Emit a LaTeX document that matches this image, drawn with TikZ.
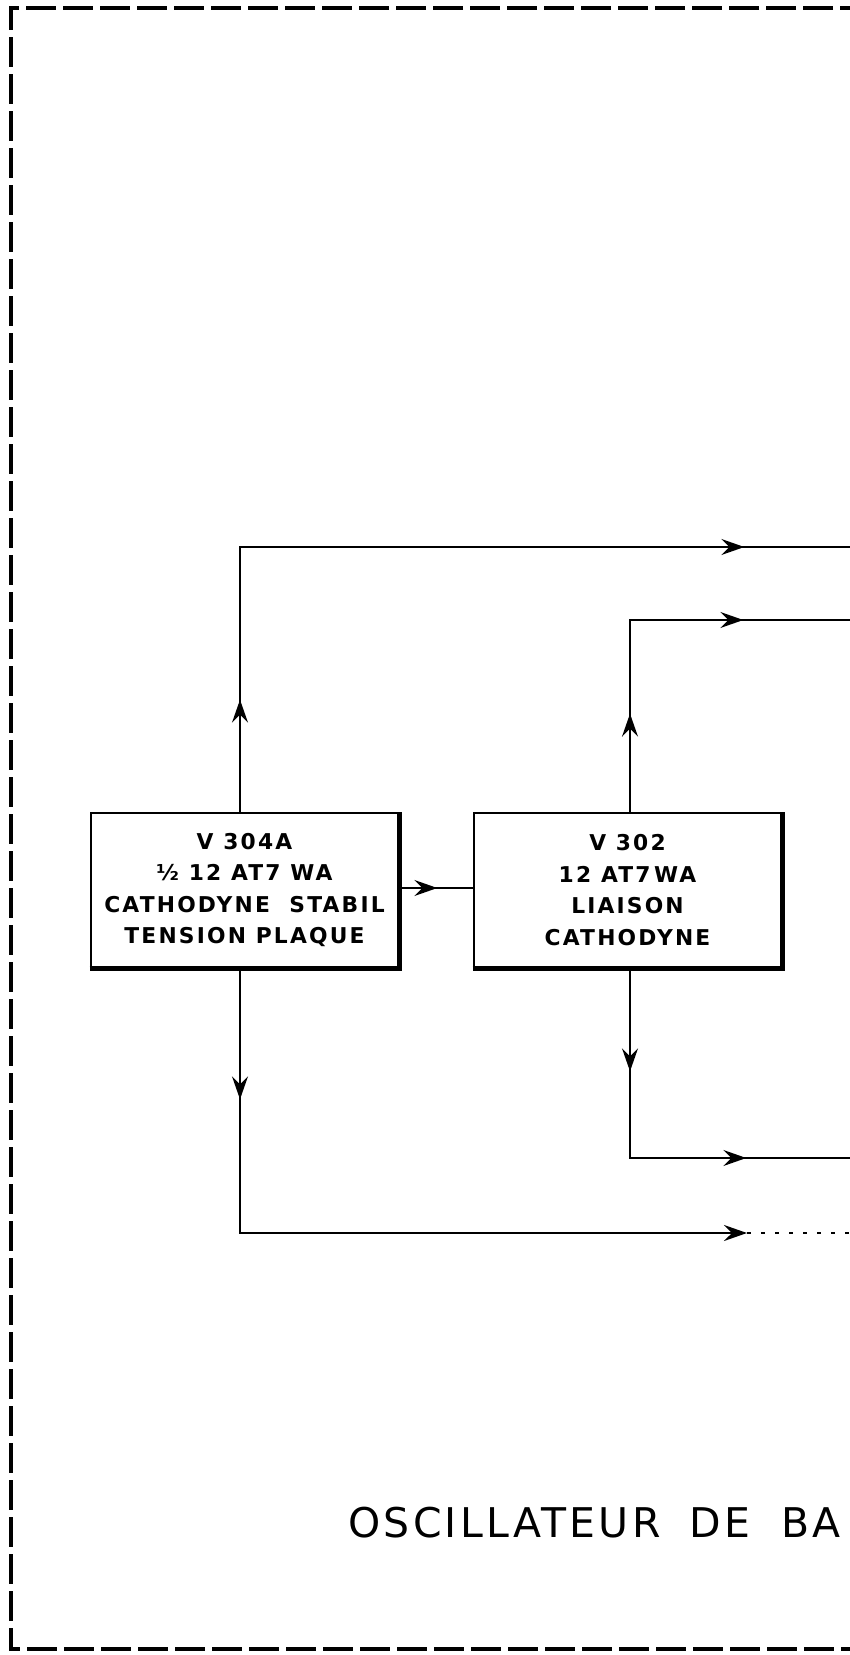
\documentclass[tikz,border=0pt]{standalone}
\usepackage{fontspec}
\setmainfont{DejaVu Sans}
\newfontfamily\lampfont{DejaVu Sans}[LetterSpace=10]
\newfontfamily\titlefont{DejaVu Sans}[LetterSpace=8]
\usetikzlibrary{arrows.meta, decorations.markings, calc}

\tikzset{
  >={Stealth[length=4.6mm, width=3.2mm, inset=1.6mm]},
  lamp/.style={draw, line width=1.5pt, align=center, inner sep=0pt,
               minimum width=61.4mm, minimum height=30.8mm,
               font=\lampfont\bfseries\fontsize{12.4}{18}\selectfont},
  heavyedge/.style={line width=3.2pt},
  wire/.style={line width=1.2pt},
  arrat/.style={postaction={decorate, decoration={markings,
                mark=at position #1 with {\arrow{>}}}}},
  frame/.style={line width=2.4pt, dash pattern=on 6mm off 1.4mm},
}

\begin{document}
\begin{tikzpicture}[x=0.2mm, y=-0.2mm]
  \useasboundingbox (0,0) rectangle (849,1655);

  % cadre
  \draw[frame] (870,8) -- (11,8) -- (11,1649) -- (870,1649);

  % lampes
  \node[lamp] (v304a) at (244.5,890)
    {V 304A\\½ 12 AT7 WA\\CATHODYNE\ \ STABIL\\TENSION PLAQUE};
  \node[lamp] (v302) at (627.5,890)
    {V 302\\12 AT7\,WA\\LIAISON\\CATHODYNE};
  \draw[heavyedge] (v304a.south west) -- (v304a.south east) -- (v304a.north east);
  \draw[heavyedge] (v302.south west) -- (v302.south east) -- (v302.north east);

  % liaison V304A -> V302
  \draw[wire, arrat=7.6mm] (v304a.east |- 0,888) -- (v302.west |- 0,888);

  % sorties hautes
  \coordinate (ta) at (240,547);
  \coordinate (ea) at (870,547);
  \coordinate (tb) at (630,620);
  \coordinate (eb) at (870,620);
  \draw[wire, arrat=22.4mm, arrat=153.8mm] (v304a.north -| ta) -- (ta) -- (ea);
  \draw[wire, arrat=19.6mm, arrat=61mm] (v302.north -| tb) -- (tb) -- (eb);

  % sorties basses
  \coordinate (bb) at (630,1158);
  \coordinate (fb) at (870,1158);
  \coordinate (ba) at (240,1233);
  \coordinate (ma) at (747,1233);
  \coordinate (fa) at (870,1233);
  \draw[wire, arrat=20.6mm, arrat=61.2mm] (v302.south -| bb) -- (bb) -- (fb);
  \draw[wire, arrat=26.2mm, ->] (v304a.south -| ba) -- (ba) -- (ma);
  \draw[wire, dash pattern=on 2pt off 6pt] (ma) -- (fa);

  % titre
  \node[anchor=base west, inner sep=0pt, font=\titlefont\fontsize{23.3}{28}\selectfont]
    (titre) at (348,1537) {OSCILLATEUR\hspace{5.8mm}DE\hspace{6.2mm}BA};
\end{tikzpicture}
\end{document}
